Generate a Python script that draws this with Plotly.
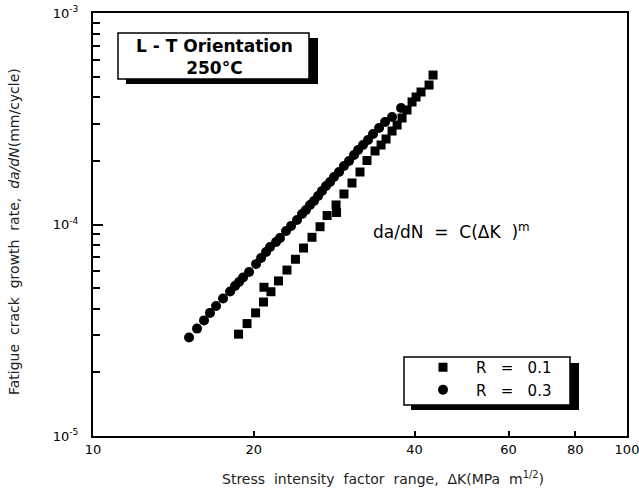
import plotly.graph_objects as go

# R = 0.1 (squares)
dk_r01 = [18.73, 19.43, 20.16, 20.86, 20.90, 21.54, 22.25, 23.08, 23.94, 24.79,
          25.71, 26.62, 27.44, 28.58, 28.52, 29.51, 30.55, 31.62, 32.59, 33.74,
          34.63, 35.38, 36.31, 37.11, 37.91, 38.73, 39.58, 40.27, 41.14, 42.59, 43.33]
rate_r01 = [3.03e-5, 3.40e-5, 3.82e-5, 4.30e-5, 5.05e-5, 4.81e-5, 5.41e-5, 6.09e-5, 6.85e-5, 7.74e-5,
            8.70e-5, 9.76e-5, 1.103e-4, 1.139e-4, 1.237e-4, 1.394e-4, 1.571e-4, 1.771e-4, 2.007e-4, 2.226e-4,
            2.376e-4, 2.536e-4, 2.767e-4, 2.954e-4, 3.188e-4, 3.478e-4, 3.796e-4, 4.007e-4, 4.231e-4, 4.565e-4, 5.09e-4]

# R = 0.3 (circles)
dk_r03 = [15.13, 15.66, 16.14, 16.56, 17.00, 17.52, 18.06, 18.45, 18.77, 19.10,
          19.60, 20.20, 20.64, 21.09, 21.46, 22.02, 22.40, 22.99, 23.49, 24.10,
          24.63, 25.05, 25.49, 25.93, 26.39, 26.84, 27.31, 27.79, 28.27, 28.89,
          29.51, 30.16, 30.82, 31.36, 32.03, 32.73, 33.45, 34.33, 35.23, 36.31, 37.75]
rate_r03 = [2.92e-5, 3.22e-5, 3.52e-5, 3.82e-5, 4.12e-5, 4.47e-5, 4.82e-5, 5.12e-5, 5.35e-5, 5.62e-5,
            5.96e-5, 6.50e-5, 6.94e-5, 7.41e-5, 7.83e-5, 8.27e-5, 8.63e-5, 9.32e-5, 9.84e-5, 1.050e-4,
            1.121e-4, 1.171e-4, 1.237e-4, 1.291e-4, 1.364e-4, 1.440e-4, 1.521e-4, 1.589e-4, 1.677e-4, 1.771e-4,
            1.891e-4, 1.996e-4, 2.131e-4, 2.250e-4, 2.376e-4, 2.509e-4, 2.679e-4, 2.860e-4, 3.053e-4, 3.223e-4, 3.555e-4]

x_tickvals = [10, 20, 40, 60, 80, 100]
x_ticktext = ["10", "20", "40", "60", "80", "100"]
y_tickvals = [1e-5, 1e-4, 1e-3]
y_ticktext = ["10<sup>-5</sup>", "10<sup>-4</sup>", "10<sup>-3</sup>"]
y_minor_vals = [2e-5, 3e-5, 4e-5, 5e-5, 6e-5, 7e-5, 8e-5, 9e-5,
                2e-4, 3e-4, 4e-4, 5e-4, 6e-4, 7e-4, 8e-4, 9e-4]

FONT = "DejaVu Sans"

fig = go.Figure()
fig.add_trace(go.Scatter(x=dk_r01, y=rate_r01, mode="markers", name="R   =   0.1",
                         marker=dict(symbol="square", size=9, color="black")))
fig.add_trace(go.Scatter(x=dk_r03, y=rate_r03, mode="markers", name="R   =   0.3",
                         marker=dict(symbol="circle", size=10, color="black")))

L, R, T, B = 93, 12, 13, 55
W, H = 639, 491
pw, ph = W - L - R, H - T - B

def px(xp):
    return (xp - L) / pw

def py(yp):
    return 1 - (yp - T) / ph

shapes = [
    # shadow + box for orientation label
    dict(type="rect", xref="paper", yref="paper", x0=px(126), x1=px(318), y0=py(84), y1=py(38),
         fillcolor="black", line=dict(width=0), layer="above"),
    dict(type="rect", xref="paper", yref="paper", x0=px(118), x1=px(309), y0=py(79), y1=py(33),
         fillcolor="white", line=dict(color="black", width=1.5), layer="above"),
    # legend shadow + box
    dict(type="rect", xref="paper", yref="paper", x0=px(411), x1=px(579), y0=py(410), y1=py(363),
         fillcolor="black", line=dict(width=0), layer="above"),
    dict(type="rect", xref="paper", yref="paper", x0=px(404), x1=px(570), y0=py(405), y1=py(357),
         fillcolor="white", line=dict(color="black", width=1.5), layer="above"),
]

annotations = [
    dict(text="<b>L - T Orientation</b><br><b>250°C</b>", x=px(214), y=py(57), xref="paper", yref="paper",
         showarrow=False, font=dict(family=FONT, size=17, color="black"), xanchor="center", yanchor="middle"),
    dict(text="da/dN  =  C(ΔK  )<sup>m</sup>", x=px(451), y=py(231), xref="paper", yref="paper",
         showarrow=False, font=dict(family=FONT, size=17, color="black"), xanchor="center", yanchor="middle"),
    dict(text="Stress  intensity  factor  range,  ΔK(MPa  m<sup>1/2</sup>)", x=px(383), y=py(478),
         xref="paper", yref="paper", showarrow=False,
         font=dict(family=FONT, size=14, color="#222"), xanchor="center", yanchor="middle"),
    dict(text="Fatigue  crack  growth  rate,  <i>da/dN</i>(mm/cycle)", x=px(14), y=py(232),
         xref="paper", yref="paper", showarrow=False, textangle=-90,
         font=dict(family=FONT, size=14, color="#222"), xanchor="center", yanchor="middle"),
]

fig.update_layout(
    width=W, height=H,
    margin=dict(l=L, r=R, t=T, b=B, autoexpand=False),
    paper_bgcolor="white", plot_bgcolor="white",
    font=dict(family=FONT, size=13, color="black"),
    showlegend=True,
    legend=dict(x=px(410), y=py(351), xanchor="left", yanchor="top",
                bgcolor="rgba(0,0,0,0)", borderwidth=0,
                font=dict(family=FONT, size=15, color="black"),
                itemwidth=56, tracegroupgap=0),
    shapes=shapes,
    annotations=annotations,
)

fig.update_xaxes(type="log", range=[1, 2], tickmode="array", tickvals=x_tickvals, ticktext=x_ticktext,
                 ticks="inside", ticklen=5, tickwidth=1.5, tickcolor="black",
                 showline=True, linecolor="black", linewidth=2, mirror=True, automargin=False,
                 ticklabeloverflow="allow",
                 showgrid=False, zeroline=False, tickfont=dict(family=FONT, size=13))
fig.update_yaxes(type="log", range=[-5, -3], tickmode="array", tickvals=y_tickvals, ticktext=y_ticktext,
                 ticks="inside", ticklen=10, tickwidth=1.5, tickcolor="black",
                 minor=dict(tickmode="array", tickvals=y_minor_vals, ticks="inside", ticklen=7,
                            tickwidth=1.5, tickcolor="black", showgrid=False),
                 showline=True, linecolor="black", linewidth=2, mirror=True, automargin=False,
                 ticklabeloverflow="allow", ticklabelstandoff=10,
                 showgrid=False, zeroline=False, tickfont=dict(family=FONT, size=13))

fig.write_html("out.html", config={"displayModeBar": False},
               post_script="document.body.style.margin='0';document.body.style.overflow='hidden';")
